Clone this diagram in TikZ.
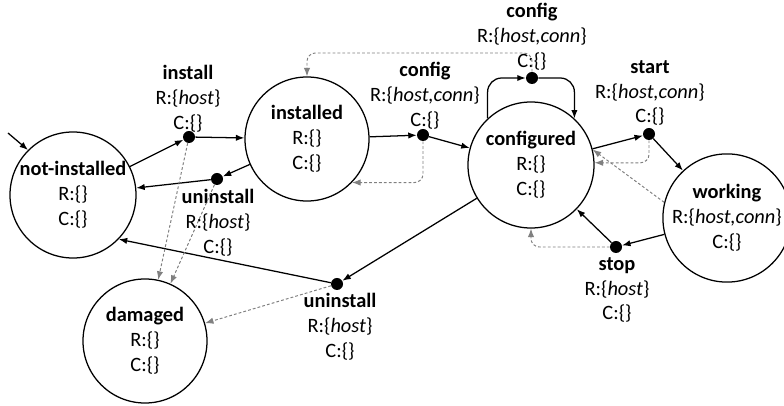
\documentclass[tikz,border=0pt]{standalone}
\usepackage{fontspec}
\setmainfont{Carlito}
\usetikzlibrary{arrows.meta,positioning}

\begin{document}
\begin{tikzpicture}[x=0.025cm,y=-0.025cm,
  every node/.style={font=\fontsize{14.5}{17.7}\selectfont,align=center,inner sep=1pt},
  state/.style={draw,circle,line width=0.9pt,minimum size=3.1cm,inner sep=0pt},
  tr_dot/.style={circle,fill=black,minimum size=0.3cm,inner sep=0pt},
  trans/.style={line width=0.9pt,-{Latex[length=6pt,width=4.5pt]}},
  dep/.style={black!50,line width=0.7pt,dash pattern=on 2pt off 1.5pt,-{Latex[length=6pt,width=4.5pt]}}]
\useasboundingbox (0,0) rectangle (784,406);
% states
\node[state,minimum size=3.15cm] (st_noti) at (73,195) {\textbf{not-installed}\\R:\{\}\\C:\{\}};
\node[state] (st_inst) at (307,139) {\textbf{installed}\\R:\{\}\\C:\{\}};
\node[state,minimum size=3.15cm] (st_cfg) at (531,165) {\textbf{configured}\\R:\{\}\\C:\{\}};
\node[state] (st_work) at (727,218) {\textbf{working}\\R:\{\textit{host,conn}\}\\C:\{\}};
\node[state] (st_dmg) at (145,341) {\textbf{damaged}\\R:\{\}\\C:\{\}};
% transitions
\node[tr_dot] (tr_install) at (189,137) {};
\node[tr_dot] (tr_uninst1) at (217,179) {};
\node[tr_dot] (tr_config1) at (423,135) {};
\node[tr_dot] (tr_config2) at (532,78) {};
\node[tr_dot] (tr_start) at (649,134) {};
\node[tr_dot] (tr_stop) at (616,247) {};
\node[tr_dot] (tr_uninst2) at (337,284) {};
\node (lb_install) at (188,99) {\textbf{install}\\R:\{\textit{host}\}\\C:\{\}};
\node (lb_uninst1) at (218,223) {\textbf{uninstall}\\R:\{\textit{host}\}\\C:\{\}};
\node (lb_config1) at (425,96) {\textbf{config}\\R:\{\textit{host,conn}\}\\C:\{\}};
\node (lb_config2) at (532,37) {\textbf{config}\\R:\{\textit{host,conn}\}\\C:\{\}};
\node (lb_start) at (650,93) {\textbf{start}\\R:\{\textit{host,conn}\}\\C:\{\}};
\node (lb_stop) at (617,290) {\textbf{stop}\\R:\{\textit{host}\}\\C:\{\}};
\node (lb_uninst2) at (340,327) {\textbf{uninstall}\\R:\{\textit{host}\}\\C:\{\}};
\coordinate (init) at (8,133);
% control flow
\draw[trans] (init) -- (st_noti.135);
\draw[trans] (st_noti) -- (tr_install);
\draw[trans] (tr_install) -- (st_inst);
\draw[trans] (st_inst) -- (tr_uninst1);
\draw[trans] (tr_uninst1) -- (st_noti);
\draw[trans] (st_inst) -- (tr_config1);
\draw[trans] (tr_config1) -- (st_cfg);
\draw[trans,rounded corners=10pt] (st_cfg.133) |- (tr_config2);
\draw[trans,rounded corners=10pt] (tr_config2) -| (st_cfg.47);
\draw[trans] (st_cfg) -- (tr_start);
\draw[trans] (tr_start) -- (st_work);
\draw[trans] (st_work) -- (tr_stop);
\draw[trans] (tr_stop) -- (st_cfg);
\draw[trans] (st_cfg) -- (tr_uninst2);
\draw[trans] (tr_uninst2) -- (st_noti.-44);
% dependencies
\draw[dep,rounded corners=6pt] (tr_config2) -- (tr_config2 |- 0,53) -| (st_inst.north);
\draw[dep,rounded corners=6pt] (tr_config1) |- (st_inst.-44);
\draw[dep,rounded corners=6pt] (tr_start) |- (st_cfg.2);
\draw[dep] (st_work.166) -- (st_cfg.14);
\draw[dep,rounded corners=6pt] (tr_stop) -| (st_cfg.south);
\draw[dep] (tr_install) -- (st_dmg);
\draw[dep] (tr_uninst1) -- (st_dmg);
\draw[dep] (tr_uninst2) -- (st_dmg);
\end{tikzpicture}
\end{document}
